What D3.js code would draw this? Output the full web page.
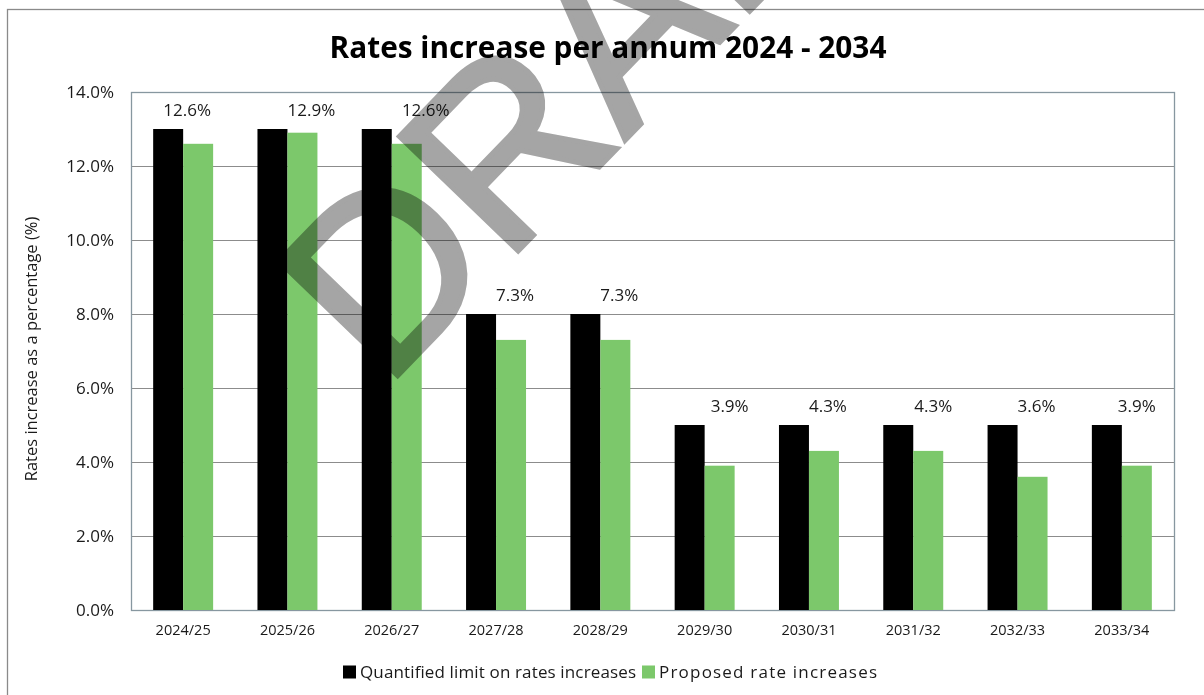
<!DOCTYPE html>
<html>
<head>
<meta charset="utf-8">
<script src="https://cdn.jsdelivr.net/npm/d3@7"></script>
<style>
  html, body { margin: 0; padding: 0; background: #fff; }
  svg { display: block; }
  text { font-family: "Open Sans", "DejaVu Sans", sans-serif; fill: #1a1a1a; }
</style>
</head>
<body>
<svg id="chart" width="1204" height="695"></svg>
<script>
// Financial years shown along the x axis
const years = ["2024/25", "2025/26", "2026/27", "2027/28", "2028/29",
               "2029/30", "2030/31", "2031/32", "2032/33", "2033/34"];
// Quantified limit on rates increases (%)
const limitValues = [13, 13, 13, 8, 8, 5, 5, 5, 5, 5];
// Proposed rate increases (%)
const proposedValues = [12.6, 12.9, 12.6, 7.3, 7.3, 3.9, 4.3, 4.3, 3.6, 3.9];
// Y axis ticks (%)
const yTicks = [0, 2, 4, 6, 8, 10, 12, 14];
const seriesNames = ["Quantified limit on rates increases", "Proposed rate increases"];
const seriesColors = ["#000000", "#7cc86b"];

// Horizontal nudges for the value labels above each group
const labelNudge = [-11, 9, 19, 4, 4, 10, 4, 5, 4, 0];

const svg = d3.select("#chart");
const W = 1204, H = 695;
const plot = { left: 131, right: 1174, top: 92, bottom: 610 };

// Outer chart frame
svg.append("rect")
  .attr("x", 7.5).attr("y", 9.5)
  .attr("width", W + 20).attr("height", H + 20)
  .attr("fill", "#fff").attr("stroke", "#8a8a8a").attr("stroke-width", 1.3);

// Title, sized to a fixed width
const title = svg.append("text")
  .attr("x", 608).attr("y", 58)
  .attr("text-anchor", "middle")
  .style("font-weight", 700)
  .style("font-size", "28px")
  .style("fill", "#000")
  .text("Rates increase per annum 2024 - 2034");
{
  const len = title.node().getComputedTextLength();
  title.style("font-size", (28 * 557 / len).toFixed(2) + "px");
}

const x = d3.scaleBand()
  .domain(years)
  .range([plot.left, plot.right])
  .paddingInner(0.425)
  .paddingOuter(0.2125);

const xSub = d3.scaleBand()
  .domain([0, 1])
  .range([0, x.bandwidth()]);

const y = d3.scaleLinear()
  .domain([0, 14])
  .range([plot.bottom, plot.top]);

// Gridlines
svg.append("g")
  .selectAll("line")
  .data(yTicks)
  .join("line")
  .attr("x1", plot.left).attr("x2", plot.right)
  .attr("y1", d => Math.round(y(d)) + 0.5).attr("y2", d => Math.round(y(d)) + 0.5)
  .attr("stroke", "#8c8c8c").attr("stroke-width", 1.2);

// Plot area border
svg.append("rect")
  .attr("x", plot.left + 0.5).attr("y", plot.top + 0.5)
  .attr("width", plot.right - plot.left).attr("height", plot.bottom - plot.top)
  .attr("fill", "none").attr("stroke", "#8797a0").attr("stroke-width", 1.3);

// Y axis labels
const yAxis = d3.axisLeft(y)
  .tickValues(yTicks)
  .tickFormat(d => d.toFixed(1) + "%")
  .tickSize(0)
  .tickPadding(0);
const gy = svg.append("g")
  .attr("transform", `translate(${plot.left - 17},0)`)
  .call(yAxis);
gy.select(".domain").remove();
gy.selectAll("text")
  .style("font-size", "17px")
  .style("font-family", '"Open Sans", sans-serif')
  .attr("fill", "#1a1a1a");

// X axis labels
const xAxis = d3.axisBottom(x).tickSize(0).tickPadding(0);
const gx = svg.append("g")
  .attr("transform", `translate(0,${plot.bottom + 15})`)
  .call(xAxis);
gx.select(".domain").remove();
gx.selectAll("text")
  .style("font-size", "14.5px")
  .style("font-family", '"Open Sans", sans-serif')
  .attr("fill", "#1a1a1a");

// Y axis title
svg.append("text")
  .attr("transform", "translate(37,349) rotate(-90)")
  .attr("text-anchor", "middle")
  .style("font-size", "16.5px")
  .text("Rates increase as a percentage (%)");

// Bars
const series = [limitValues, proposedValues];
series.forEach((vals, si) => {
  svg.append("g")
    .selectAll("rect")
    .data(vals)
    .join("rect")
    .attr("x", (d, i) => x(years[i]) + xSub(si))
    .attr("y", d => y(d))
    .attr("width", xSub.bandwidth())
    .attr("height", d => y(0) - y(d))
    .attr("fill", seriesColors[si]);
});

// Value labels for the proposed increases, placed above each group
svg.append("g")
  .selectAll("text")
  .data(proposedValues)
  .join("text")
  .attr("x", (d, i) => x(years[i]) + xSub(1) + xSub.bandwidth() / 2 + labelNudge[i])
  .attr("y", (d, i) => y(limitValues[i]) - 19)
  .attr("dy", "0.35em")
  .attr("text-anchor", "middle")
  .style("font-size", "17px")
  .text(d => d.toFixed(1) + "%");

// Legend
const legend = svg.append("g").attr("transform", "translate(0,672)");
const legendX = [343, 642];
const legendTextWidth = [276, 218];
seriesNames.forEach((name, i) => {
  legend.append("rect")
    .attr("x", legendX[i]).attr("y", -6.5)
    .attr("width", 13).attr("height", 13)
    .attr("fill", seriesColors[i]);
  legend.append("text")
    .attr("x", legendX[i] + 17).attr("y", 0)
    .attr("dy", "0.35em")
    .attr("textLength", legendTextWidth[i])
    .attr("lengthAdjust", "spacing")
    .style("font-size", "17px")
    .text(name);
});

// DRAFT watermark across the chart
svg.append("text")
  .attr("transform", "translate(384,390) rotate(-46)")
  .style("font-family", '"Liberation Sans", Arial, sans-serif')
  .style("font-size", "240px")
  .style("font-weight", 400)
  .style("fill", "#a5a5a5")
  .style("stroke", "#a5a5a5")
  .style("stroke-width", 5)
  .style("stroke-linejoin", "miter")
  .style("mix-blend-mode", "multiply")
  .text("DRAFT");
</script>
</body>
</html>
